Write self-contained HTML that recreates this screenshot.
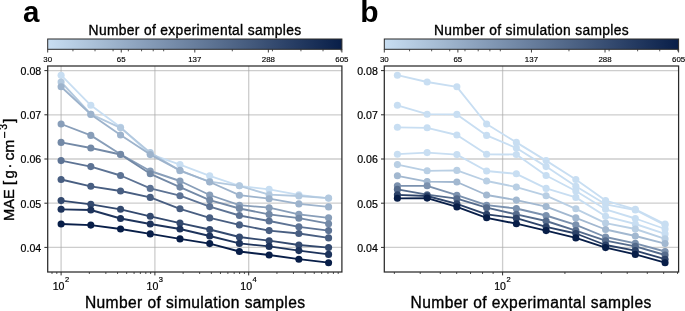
<!DOCTYPE html>
<html><head><meta charset="utf-8"><title>MAE vs samples</title>
<style>html,body{margin:0;padding:0;background:#fff;width:685px;height:311px;overflow:hidden}svg{will-change:transform}text{stroke:#000;stroke-width:0.35px}</style>
</head><body>
<svg width="685" height="311" viewBox="0 0 685 311" style="display:block">
<g font-family='"Liberation Sans", sans-serif' fill="#000">
<rect width="685" height="311" fill="#fff"/>
<text x="23" y="21.6" font-size="29.5" font-weight="bold" style="stroke:none">a</text>
<text x="360.2" y="21.5" font-size="30" font-weight="bold" style="stroke:none">b</text>
<defs><linearGradient id="ga" x1="0" x2="1" y1="0" y2="0"><stop offset="0.00" stop-color="#c8def2"/><stop offset="0.10" stop-color="#b5cbe1"/><stop offset="0.20" stop-color="#a2b8d0"/><stop offset="0.30" stop-color="#8ea4bf"/><stop offset="0.40" stop-color="#7b91ae"/><stop offset="0.50" stop-color="#687e9d"/><stop offset="0.60" stop-color="#556b8c"/><stop offset="0.70" stop-color="#42587b"/><stop offset="0.80" stop-color="#2e446a"/><stop offset="0.90" stop-color="#1b3159"/><stop offset="1.00" stop-color="#081e48"/></linearGradient></defs>
<rect x="47.7" y="39.0" width="294.20" height="10.30" fill="url(#ga)" stroke="#2a2a2a" stroke-width="1"/>
<line x1="72.94" x2="72.94" y1="49.3" y2="51.3" stroke="#2a2a2a" stroke-width="0.8"/>
<line x1="95.03" x2="95.03" y1="49.3" y2="51.3" stroke="#2a2a2a" stroke-width="0.8"/>
<line x1="113.09" x2="113.09" y1="49.3" y2="51.3" stroke="#2a2a2a" stroke-width="0.8"/>
<line x1="128.35" x2="128.35" y1="49.3" y2="51.3" stroke="#2a2a2a" stroke-width="0.8"/>
<line x1="141.57" x2="141.57" y1="49.3" y2="51.3" stroke="#2a2a2a" stroke-width="0.8"/>
<line x1="153.23" x2="153.23" y1="49.3" y2="51.3" stroke="#2a2a2a" stroke-width="0.8"/>
<line x1="163.67" x2="163.67" y1="49.3" y2="51.3" stroke="#2a2a2a" stroke-width="0.8"/>
<line x1="232.30" x2="232.30" y1="49.3" y2="51.3" stroke="#2a2a2a" stroke-width="0.8"/>
<line x1="272.45" x2="272.45" y1="49.3" y2="51.3" stroke="#2a2a2a" stroke-width="0.8"/>
<line x1="300.93" x2="300.93" y1="49.3" y2="51.3" stroke="#2a2a2a" stroke-width="0.8"/>
<line x1="323.03" x2="323.03" y1="49.3" y2="51.3" stroke="#2a2a2a" stroke-width="0.8"/>
<line x1="341.08" x2="341.08" y1="49.3" y2="51.3" stroke="#2a2a2a" stroke-width="0.8"/>
<line x1="47.70" x2="47.70" y1="49.3" y2="52.5" stroke="#2a2a2a" stroke-width="0.9"/>
<text x="47.70" y="61.5" font-size="7.9" text-anchor="middle" style="stroke-width:0.15px">30</text>
<line x1="121.25" x2="121.25" y1="49.3" y2="52.5" stroke="#2a2a2a" stroke-width="0.9"/>
<text x="121.25" y="61.5" font-size="7.9" text-anchor="middle" style="stroke-width:0.15px">65</text>
<line x1="194.80" x2="194.80" y1="49.3" y2="52.5" stroke="#2a2a2a" stroke-width="0.9"/>
<text x="194.80" y="61.5" font-size="7.9" text-anchor="middle" style="stroke-width:0.15px">137</text>
<line x1="268.35" x2="268.35" y1="49.3" y2="52.5" stroke="#2a2a2a" stroke-width="0.9"/>
<text x="268.35" y="61.5" font-size="7.9" text-anchor="middle" style="stroke-width:0.15px">288</text>
<line x1="341.90" x2="341.90" y1="49.3" y2="52.5" stroke="#2a2a2a" stroke-width="0.9"/>
<text x="341.90" y="61.5" font-size="7.9" text-anchor="middle" style="stroke-width:0.15px">605</text>
<text x="88.6" y="34.7" font-size="13.8" textLength="212.6" lengthAdjust="spacing">Number of experimental samples</text>
<line x1="47.7" x2="341.9" y1="247.40" y2="247.40" stroke="#a8a8a8" stroke-opacity="0.58" stroke-width="1.3"/>
<line x1="47.7" x2="341.9" y1="203.20" y2="203.20" stroke="#a8a8a8" stroke-opacity="0.58" stroke-width="1.3"/>
<line x1="47.7" x2="341.9" y1="159.00" y2="159.00" stroke="#a8a8a8" stroke-opacity="0.58" stroke-width="1.3"/>
<line x1="47.7" x2="341.9" y1="114.80" y2="114.80" stroke="#a8a8a8" stroke-opacity="0.58" stroke-width="1.3"/>
<line x1="47.7" x2="341.9" y1="70.60" y2="70.60" stroke="#a8a8a8" stroke-opacity="0.58" stroke-width="1.3"/>
<line x1="61.10" x2="61.10" y1="66.0" y2="272.0" stroke="#a8a8a8" stroke-opacity="0.58" stroke-width="1.3"/>
<line x1="154.90" x2="154.90" y1="66.0" y2="272.0" stroke="#a8a8a8" stroke-opacity="0.58" stroke-width="1.3"/>
<line x1="248.70" x2="248.70" y1="66.0" y2="272.0" stroke="#a8a8a8" stroke-opacity="0.58" stroke-width="1.3"/>
<path d="M61.10,75.20 L90.82,105.30 L120.54,127.30 L150.26,154.20 L179.98,164.60 L209.70,175.80 L239.42,185.80 L269.14,189.40 L298.86,194.80 L328.58,198.30" fill="none" stroke="#c8def2" stroke-width="1.85" stroke-linejoin="round"/>
<circle cx="61.10" cy="75.20" r="3.55" fill="#c8def2"/>
<circle cx="90.82" cy="105.30" r="3.55" fill="#c8def2"/>
<circle cx="120.54" cy="127.30" r="3.55" fill="#c8def2"/>
<circle cx="150.26" cy="154.20" r="3.55" fill="#c8def2"/>
<circle cx="179.98" cy="164.60" r="3.55" fill="#c8def2"/>
<circle cx="209.70" cy="175.80" r="3.55" fill="#c8def2"/>
<circle cx="239.42" cy="185.80" r="3.55" fill="#c8def2"/>
<circle cx="269.14" cy="189.40" r="3.55" fill="#c8def2"/>
<circle cx="298.86" cy="194.80" r="3.55" fill="#c8def2"/>
<circle cx="328.58" cy="198.30" r="3.55" fill="#c8def2"/>
<path d="M61.10,82.00 L90.82,114.20 L120.54,127.80 L150.26,152.60 L179.98,170.80 L209.70,181.60 L239.42,185.80 L269.14,194.70 L298.86,196.00 L328.58,198.10" fill="none" stroke="#b3c9df" stroke-width="1.85" stroke-linejoin="round"/>
<circle cx="61.10" cy="82.00" r="3.55" fill="#b3c9df"/>
<circle cx="90.82" cy="114.20" r="3.55" fill="#b3c9df"/>
<circle cx="120.54" cy="127.80" r="3.55" fill="#b3c9df"/>
<circle cx="150.26" cy="152.60" r="3.55" fill="#b3c9df"/>
<circle cx="179.98" cy="170.80" r="3.55" fill="#b3c9df"/>
<circle cx="209.70" cy="181.60" r="3.55" fill="#b3c9df"/>
<circle cx="239.42" cy="185.80" r="3.55" fill="#b3c9df"/>
<circle cx="269.14" cy="194.70" r="3.55" fill="#b3c9df"/>
<circle cx="298.86" cy="196.00" r="3.55" fill="#b3c9df"/>
<circle cx="328.58" cy="198.10" r="3.55" fill="#b3c9df"/>
<path d="M61.10,86.80 L90.82,114.40 L120.54,135.00 L150.26,154.60 L179.98,170.40 L209.70,182.00 L239.42,195.20 L269.14,198.70 L298.86,203.90 L328.58,206.90" fill="none" stroke="#9db3cc" stroke-width="1.85" stroke-linejoin="round"/>
<circle cx="61.10" cy="86.80" r="3.55" fill="#9db3cc"/>
<circle cx="90.82" cy="114.40" r="3.55" fill="#9db3cc"/>
<circle cx="120.54" cy="135.00" r="3.55" fill="#9db3cc"/>
<circle cx="150.26" cy="154.60" r="3.55" fill="#9db3cc"/>
<circle cx="179.98" cy="170.40" r="3.55" fill="#9db3cc"/>
<circle cx="209.70" cy="182.00" r="3.55" fill="#9db3cc"/>
<circle cx="239.42" cy="195.20" r="3.55" fill="#9db3cc"/>
<circle cx="269.14" cy="198.70" r="3.55" fill="#9db3cc"/>
<circle cx="298.86" cy="203.90" r="3.55" fill="#9db3cc"/>
<circle cx="328.58" cy="206.90" r="3.55" fill="#9db3cc"/>
<path d="M61.10,124.00 L90.82,135.40 L120.54,154.30 L150.26,171.00 L179.98,181.00 L209.70,195.00 L239.42,205.20 L269.14,207.70 L298.86,214.30 L328.58,217.80" fill="none" stroke="#889eb9" stroke-width="1.85" stroke-linejoin="round"/>
<circle cx="61.10" cy="124.00" r="3.55" fill="#889eb9"/>
<circle cx="90.82" cy="135.40" r="3.55" fill="#889eb9"/>
<circle cx="120.54" cy="154.30" r="3.55" fill="#889eb9"/>
<circle cx="150.26" cy="171.00" r="3.55" fill="#889eb9"/>
<circle cx="179.98" cy="181.00" r="3.55" fill="#889eb9"/>
<circle cx="209.70" cy="195.00" r="3.55" fill="#889eb9"/>
<circle cx="239.42" cy="205.20" r="3.55" fill="#889eb9"/>
<circle cx="269.14" cy="207.70" r="3.55" fill="#889eb9"/>
<circle cx="298.86" cy="214.30" r="3.55" fill="#889eb9"/>
<circle cx="328.58" cy="217.80" r="3.55" fill="#889eb9"/>
<path d="M61.10,142.40 L90.82,148.00 L120.54,154.50 L150.26,173.80 L179.98,187.10 L209.70,200.10 L239.42,208.50 L269.14,214.40 L298.86,218.20 L328.58,223.70" fill="none" stroke="#7389a6" stroke-width="1.85" stroke-linejoin="round"/>
<circle cx="61.10" cy="142.40" r="3.55" fill="#7389a6"/>
<circle cx="90.82" cy="148.00" r="3.55" fill="#7389a6"/>
<circle cx="120.54" cy="154.50" r="3.55" fill="#7389a6"/>
<circle cx="150.26" cy="173.80" r="3.55" fill="#7389a6"/>
<circle cx="179.98" cy="187.10" r="3.55" fill="#7389a6"/>
<circle cx="209.70" cy="200.10" r="3.55" fill="#7389a6"/>
<circle cx="239.42" cy="208.50" r="3.55" fill="#7389a6"/>
<circle cx="269.14" cy="214.40" r="3.55" fill="#7389a6"/>
<circle cx="298.86" cy="218.20" r="3.55" fill="#7389a6"/>
<circle cx="328.58" cy="223.70" r="3.55" fill="#7389a6"/>
<path d="M61.10,160.60 L90.82,166.60 L120.54,175.50 L150.26,188.40 L179.98,195.70 L209.70,206.60 L239.42,215.50 L269.14,221.00 L298.86,226.80 L328.58,230.60" fill="none" stroke="#5d7394" stroke-width="1.85" stroke-linejoin="round"/>
<circle cx="61.10" cy="160.60" r="3.55" fill="#5d7394"/>
<circle cx="90.82" cy="166.60" r="3.55" fill="#5d7394"/>
<circle cx="120.54" cy="175.50" r="3.55" fill="#5d7394"/>
<circle cx="150.26" cy="188.40" r="3.55" fill="#5d7394"/>
<circle cx="179.98" cy="195.70" r="3.55" fill="#5d7394"/>
<circle cx="209.70" cy="206.60" r="3.55" fill="#5d7394"/>
<circle cx="239.42" cy="215.50" r="3.55" fill="#5d7394"/>
<circle cx="269.14" cy="221.00" r="3.55" fill="#5d7394"/>
<circle cx="298.86" cy="226.80" r="3.55" fill="#5d7394"/>
<circle cx="328.58" cy="230.60" r="3.55" fill="#5d7394"/>
<path d="M61.10,179.50 L90.82,186.30 L120.54,191.00 L150.26,197.40 L179.98,208.80 L209.70,217.90 L239.42,224.90 L269.14,230.60 L298.86,233.50 L328.58,237.90" fill="none" stroke="#485e81" stroke-width="1.85" stroke-linejoin="round"/>
<circle cx="61.10" cy="179.50" r="3.55" fill="#485e81"/>
<circle cx="90.82" cy="186.30" r="3.55" fill="#485e81"/>
<circle cx="120.54" cy="191.00" r="3.55" fill="#485e81"/>
<circle cx="150.26" cy="197.40" r="3.55" fill="#485e81"/>
<circle cx="179.98" cy="208.80" r="3.55" fill="#485e81"/>
<circle cx="209.70" cy="217.90" r="3.55" fill="#485e81"/>
<circle cx="239.42" cy="224.90" r="3.55" fill="#485e81"/>
<circle cx="269.14" cy="230.60" r="3.55" fill="#485e81"/>
<circle cx="298.86" cy="233.50" r="3.55" fill="#485e81"/>
<circle cx="328.58" cy="237.90" r="3.55" fill="#485e81"/>
<path d="M61.10,200.60 L90.82,204.30 L120.54,209.30 L150.26,216.30 L179.98,223.10 L209.70,229.50 L239.42,237.00 L269.14,240.70 L298.86,245.00 L328.58,247.60" fill="none" stroke="#33496e" stroke-width="1.85" stroke-linejoin="round"/>
<circle cx="61.10" cy="200.60" r="3.55" fill="#33496e"/>
<circle cx="90.82" cy="204.30" r="3.55" fill="#33496e"/>
<circle cx="120.54" cy="209.30" r="3.55" fill="#33496e"/>
<circle cx="150.26" cy="216.30" r="3.55" fill="#33496e"/>
<circle cx="179.98" cy="223.10" r="3.55" fill="#33496e"/>
<circle cx="209.70" cy="229.50" r="3.55" fill="#33496e"/>
<circle cx="239.42" cy="237.00" r="3.55" fill="#33496e"/>
<circle cx="269.14" cy="240.70" r="3.55" fill="#33496e"/>
<circle cx="298.86" cy="245.00" r="3.55" fill="#33496e"/>
<circle cx="328.58" cy="247.60" r="3.55" fill="#33496e"/>
<path d="M61.10,209.30 L90.82,210.00 L120.54,218.50 L150.26,224.00 L179.98,229.00 L209.70,236.00 L239.42,243.40 L269.14,246.40 L298.86,250.60 L328.58,254.40" fill="none" stroke="#1d335b" stroke-width="1.85" stroke-linejoin="round"/>
<circle cx="61.10" cy="209.30" r="3.55" fill="#1d335b"/>
<circle cx="90.82" cy="210.00" r="3.55" fill="#1d335b"/>
<circle cx="120.54" cy="218.50" r="3.55" fill="#1d335b"/>
<circle cx="150.26" cy="224.00" r="3.55" fill="#1d335b"/>
<circle cx="179.98" cy="229.00" r="3.55" fill="#1d335b"/>
<circle cx="209.70" cy="236.00" r="3.55" fill="#1d335b"/>
<circle cx="239.42" cy="243.40" r="3.55" fill="#1d335b"/>
<circle cx="269.14" cy="246.40" r="3.55" fill="#1d335b"/>
<circle cx="298.86" cy="250.60" r="3.55" fill="#1d335b"/>
<circle cx="328.58" cy="254.40" r="3.55" fill="#1d335b"/>
<path d="M61.10,224.00 L90.82,225.10 L120.54,229.00 L150.26,233.90 L179.98,238.90 L209.70,243.60 L239.42,251.50 L269.14,255.00 L298.86,259.20 L328.58,262.70" fill="none" stroke="#081e48" stroke-width="1.85" stroke-linejoin="round"/>
<circle cx="61.10" cy="224.00" r="3.55" fill="#081e48"/>
<circle cx="90.82" cy="225.10" r="3.55" fill="#081e48"/>
<circle cx="120.54" cy="229.00" r="3.55" fill="#081e48"/>
<circle cx="150.26" cy="233.90" r="3.55" fill="#081e48"/>
<circle cx="179.98" cy="238.90" r="3.55" fill="#081e48"/>
<circle cx="209.70" cy="243.60" r="3.55" fill="#081e48"/>
<circle cx="239.42" cy="251.50" r="3.55" fill="#081e48"/>
<circle cx="269.14" cy="255.00" r="3.55" fill="#081e48"/>
<circle cx="298.86" cy="259.20" r="3.55" fill="#081e48"/>
<circle cx="328.58" cy="262.70" r="3.55" fill="#081e48"/>
<rect x="47.7" y="66.0" width="294.20" height="206.00" fill="none" stroke="#2a2a2a" stroke-width="1.25"/>
<line x1="44.40" x2="47.7" y1="247.40" y2="247.40" stroke="#2a2a2a" stroke-width="1"/>
<text x="41.2" y="251.80" font-size="10.6" text-anchor="end" style="stroke-width:0.2px">0.04</text>
<line x1="44.40" x2="47.7" y1="203.20" y2="203.20" stroke="#2a2a2a" stroke-width="1"/>
<text x="41.2" y="207.60" font-size="10.6" text-anchor="end" style="stroke-width:0.2px">0.05</text>
<line x1="44.40" x2="47.7" y1="159.00" y2="159.00" stroke="#2a2a2a" stroke-width="1"/>
<text x="41.2" y="163.40" font-size="10.6" text-anchor="end" style="stroke-width:0.2px">0.06</text>
<line x1="44.40" x2="47.7" y1="114.80" y2="114.80" stroke="#2a2a2a" stroke-width="1"/>
<text x="41.2" y="119.20" font-size="10.6" text-anchor="end" style="stroke-width:0.2px">0.07</text>
<line x1="44.40" x2="47.7" y1="70.60" y2="70.60" stroke="#2a2a2a" stroke-width="1"/>
<text x="41.2" y="75.00" font-size="10.6" text-anchor="end" style="stroke-width:0.2px">0.08</text>
<line x1="52.01" x2="52.01" y1="272.0" y2="274.0" stroke="#2a2a2a" stroke-width="0.8"/>
<line x1="56.81" x2="56.81" y1="272.0" y2="274.0" stroke="#2a2a2a" stroke-width="0.8"/>
<line x1="89.34" x2="89.34" y1="272.0" y2="274.0" stroke="#2a2a2a" stroke-width="0.8"/>
<line x1="105.85" x2="105.85" y1="272.0" y2="274.0" stroke="#2a2a2a" stroke-width="0.8"/>
<line x1="117.57" x2="117.57" y1="272.0" y2="274.0" stroke="#2a2a2a" stroke-width="0.8"/>
<line x1="126.66" x2="126.66" y1="272.0" y2="274.0" stroke="#2a2a2a" stroke-width="0.8"/>
<line x1="134.09" x2="134.09" y1="272.0" y2="274.0" stroke="#2a2a2a" stroke-width="0.8"/>
<line x1="140.37" x2="140.37" y1="272.0" y2="274.0" stroke="#2a2a2a" stroke-width="0.8"/>
<line x1="145.81" x2="145.81" y1="272.0" y2="274.0" stroke="#2a2a2a" stroke-width="0.8"/>
<line x1="150.61" x2="150.61" y1="272.0" y2="274.0" stroke="#2a2a2a" stroke-width="0.8"/>
<line x1="183.14" x2="183.14" y1="272.0" y2="274.0" stroke="#2a2a2a" stroke-width="0.8"/>
<line x1="199.65" x2="199.65" y1="272.0" y2="274.0" stroke="#2a2a2a" stroke-width="0.8"/>
<line x1="211.37" x2="211.37" y1="272.0" y2="274.0" stroke="#2a2a2a" stroke-width="0.8"/>
<line x1="220.46" x2="220.46" y1="272.0" y2="274.0" stroke="#2a2a2a" stroke-width="0.8"/>
<line x1="227.89" x2="227.89" y1="272.0" y2="274.0" stroke="#2a2a2a" stroke-width="0.8"/>
<line x1="234.17" x2="234.17" y1="272.0" y2="274.0" stroke="#2a2a2a" stroke-width="0.8"/>
<line x1="239.61" x2="239.61" y1="272.0" y2="274.0" stroke="#2a2a2a" stroke-width="0.8"/>
<line x1="244.41" x2="244.41" y1="272.0" y2="274.0" stroke="#2a2a2a" stroke-width="0.8"/>
<line x1="276.94" x2="276.94" y1="272.0" y2="274.0" stroke="#2a2a2a" stroke-width="0.8"/>
<line x1="293.45" x2="293.45" y1="272.0" y2="274.0" stroke="#2a2a2a" stroke-width="0.8"/>
<line x1="305.17" x2="305.17" y1="272.0" y2="274.0" stroke="#2a2a2a" stroke-width="0.8"/>
<line x1="314.26" x2="314.26" y1="272.0" y2="274.0" stroke="#2a2a2a" stroke-width="0.8"/>
<line x1="321.69" x2="321.69" y1="272.0" y2="274.0" stroke="#2a2a2a" stroke-width="0.8"/>
<line x1="327.97" x2="327.97" y1="272.0" y2="274.0" stroke="#2a2a2a" stroke-width="0.8"/>
<line x1="333.41" x2="333.41" y1="272.0" y2="274.0" stroke="#2a2a2a" stroke-width="0.8"/>
<line x1="338.21" x2="338.21" y1="272.0" y2="274.0" stroke="#2a2a2a" stroke-width="0.8"/>
<line x1="61.10" x2="61.10" y1="272.0" y2="275.4" stroke="#2a2a2a" stroke-width="1"/>
<text x="60.90" y="289.5" font-size="10.6" text-anchor="middle" style="stroke-width:0.2px">10<tspan dx="0.4" dy="-7.2" font-size="7.5">2</tspan></text>
<line x1="154.90" x2="154.90" y1="272.0" y2="275.4" stroke="#2a2a2a" stroke-width="1"/>
<text x="154.70" y="289.5" font-size="10.6" text-anchor="middle" style="stroke-width:0.2px">10<tspan dx="0.4" dy="-7.2" font-size="7.5">3</tspan></text>
<line x1="248.70" x2="248.70" y1="272.0" y2="275.4" stroke="#2a2a2a" stroke-width="1"/>
<text x="248.50" y="289.5" font-size="10.6" text-anchor="middle" style="stroke-width:0.2px">10<tspan dx="0.4" dy="-7.2" font-size="7.5">4</tspan></text>
<text x="84.9" y="307.5" font-size="15.6" textLength="220.1" lengthAdjust="spacing">Number of simulation samples</text>
<defs><linearGradient id="gb" x1="0" x2="1" y1="0" y2="0"><stop offset="0.00" stop-color="#c8def2"/><stop offset="0.10" stop-color="#b5cbe1"/><stop offset="0.20" stop-color="#a2b8d0"/><stop offset="0.30" stop-color="#8ea4bf"/><stop offset="0.40" stop-color="#7b91ae"/><stop offset="0.50" stop-color="#687e9d"/><stop offset="0.60" stop-color="#556b8c"/><stop offset="0.70" stop-color="#42587b"/><stop offset="0.80" stop-color="#2e446a"/><stop offset="0.90" stop-color="#1b3159"/><stop offset="1.00" stop-color="#081e48"/></linearGradient></defs>
<rect x="384.3" y="39.0" width="294.30" height="10.30" fill="url(#gb)" stroke="#2a2a2a" stroke-width="1"/>
<line x1="409.55" x2="409.55" y1="49.3" y2="51.3" stroke="#2a2a2a" stroke-width="0.8"/>
<line x1="431.65" x2="431.65" y1="49.3" y2="51.3" stroke="#2a2a2a" stroke-width="0.8"/>
<line x1="449.71" x2="449.71" y1="49.3" y2="51.3" stroke="#2a2a2a" stroke-width="0.8"/>
<line x1="464.98" x2="464.98" y1="49.3" y2="51.3" stroke="#2a2a2a" stroke-width="0.8"/>
<line x1="478.20" x2="478.20" y1="49.3" y2="51.3" stroke="#2a2a2a" stroke-width="0.8"/>
<line x1="489.87" x2="489.87" y1="49.3" y2="51.3" stroke="#2a2a2a" stroke-width="0.8"/>
<line x1="500.31" x2="500.31" y1="49.3" y2="51.3" stroke="#2a2a2a" stroke-width="0.8"/>
<line x1="568.96" x2="568.96" y1="49.3" y2="51.3" stroke="#2a2a2a" stroke-width="0.8"/>
<line x1="609.12" x2="609.12" y1="49.3" y2="51.3" stroke="#2a2a2a" stroke-width="0.8"/>
<line x1="637.62" x2="637.62" y1="49.3" y2="51.3" stroke="#2a2a2a" stroke-width="0.8"/>
<line x1="659.72" x2="659.72" y1="49.3" y2="51.3" stroke="#2a2a2a" stroke-width="0.8"/>
<line x1="677.78" x2="677.78" y1="49.3" y2="51.3" stroke="#2a2a2a" stroke-width="0.8"/>
<line x1="384.30" x2="384.30" y1="49.3" y2="52.5" stroke="#2a2a2a" stroke-width="0.9"/>
<text x="384.30" y="61.5" font-size="7.9" text-anchor="middle" style="stroke-width:0.15px">30</text>
<line x1="457.88" x2="457.88" y1="49.3" y2="52.5" stroke="#2a2a2a" stroke-width="0.9"/>
<text x="457.88" y="61.5" font-size="7.9" text-anchor="middle" style="stroke-width:0.15px">65</text>
<line x1="531.45" x2="531.45" y1="49.3" y2="52.5" stroke="#2a2a2a" stroke-width="0.9"/>
<text x="531.45" y="61.5" font-size="7.9" text-anchor="middle" style="stroke-width:0.15px">137</text>
<line x1="605.03" x2="605.03" y1="49.3" y2="52.5" stroke="#2a2a2a" stroke-width="0.9"/>
<text x="605.03" y="61.5" font-size="7.9" text-anchor="middle" style="stroke-width:0.15px">288</text>
<line x1="678.60" x2="678.60" y1="49.3" y2="52.5" stroke="#2a2a2a" stroke-width="0.9"/>
<text x="678.60" y="61.5" font-size="7.9" text-anchor="middle" style="stroke-width:0.15px">605</text>
<text x="433.9" y="34.7" font-size="13.8" textLength="194.7" lengthAdjust="spacing">Number of simulation samples</text>
<line x1="384.3" x2="678.6" y1="247.40" y2="247.40" stroke="#a8a8a8" stroke-opacity="0.58" stroke-width="1.3"/>
<line x1="384.3" x2="678.6" y1="203.20" y2="203.20" stroke="#a8a8a8" stroke-opacity="0.58" stroke-width="1.3"/>
<line x1="384.3" x2="678.6" y1="159.00" y2="159.00" stroke="#a8a8a8" stroke-opacity="0.58" stroke-width="1.3"/>
<line x1="384.3" x2="678.6" y1="114.80" y2="114.80" stroke="#a8a8a8" stroke-opacity="0.58" stroke-width="1.3"/>
<line x1="384.3" x2="678.6" y1="70.60" y2="70.60" stroke="#a8a8a8" stroke-opacity="0.58" stroke-width="1.3"/>
<line x1="502.60" x2="502.60" y1="66.0" y2="272.0" stroke="#a8a8a8" stroke-opacity="0.58" stroke-width="1.3"/>
<path d="M397.40,75.20 L427.14,82.00 L456.88,86.80 L486.62,124.00 L516.36,142.40 L546.10,160.60 L575.84,179.50 L605.58,200.60 L635.32,209.30 L665.06,224.00" fill="none" stroke="#c8def2" stroke-width="1.85" stroke-linejoin="round"/>
<circle cx="397.40" cy="75.20" r="3.55" fill="#c8def2"/>
<circle cx="427.14" cy="82.00" r="3.55" fill="#c8def2"/>
<circle cx="456.88" cy="86.80" r="3.55" fill="#c8def2"/>
<circle cx="486.62" cy="124.00" r="3.55" fill="#c8def2"/>
<circle cx="516.36" cy="142.40" r="3.55" fill="#c8def2"/>
<circle cx="546.10" cy="160.60" r="3.55" fill="#c8def2"/>
<circle cx="575.84" cy="179.50" r="3.55" fill="#c8def2"/>
<circle cx="605.58" cy="200.60" r="3.55" fill="#c8def2"/>
<circle cx="635.32" cy="209.30" r="3.55" fill="#c8def2"/>
<circle cx="665.06" cy="224.00" r="3.55" fill="#c8def2"/>
<path d="M397.40,105.30 L427.14,114.20 L456.88,114.40 L486.62,135.40 L516.36,148.00 L546.10,166.60 L575.84,186.30 L605.58,204.30 L635.32,210.00 L665.06,225.10" fill="none" stroke="#c8def2" stroke-width="1.85" stroke-linejoin="round"/>
<circle cx="397.40" cy="105.30" r="3.55" fill="#c8def2"/>
<circle cx="427.14" cy="114.20" r="3.55" fill="#c8def2"/>
<circle cx="456.88" cy="114.40" r="3.55" fill="#c8def2"/>
<circle cx="486.62" cy="135.40" r="3.55" fill="#c8def2"/>
<circle cx="516.36" cy="148.00" r="3.55" fill="#c8def2"/>
<circle cx="546.10" cy="166.60" r="3.55" fill="#c8def2"/>
<circle cx="575.84" cy="186.30" r="3.55" fill="#c8def2"/>
<circle cx="605.58" cy="204.30" r="3.55" fill="#c8def2"/>
<circle cx="635.32" cy="210.00" r="3.55" fill="#c8def2"/>
<circle cx="665.06" cy="225.10" r="3.55" fill="#c8def2"/>
<path d="M397.40,127.30 L427.14,127.80 L456.88,135.00 L486.62,154.30 L516.36,154.50 L546.10,175.50 L575.84,191.00 L605.58,209.30 L635.32,218.50 L665.06,229.00" fill="none" stroke="#c8def2" stroke-width="1.85" stroke-linejoin="round"/>
<circle cx="397.40" cy="127.30" r="3.55" fill="#c8def2"/>
<circle cx="427.14" cy="127.80" r="3.55" fill="#c8def2"/>
<circle cx="456.88" cy="135.00" r="3.55" fill="#c8def2"/>
<circle cx="486.62" cy="154.30" r="3.55" fill="#c8def2"/>
<circle cx="516.36" cy="154.50" r="3.55" fill="#c8def2"/>
<circle cx="546.10" cy="175.50" r="3.55" fill="#c8def2"/>
<circle cx="575.84" cy="191.00" r="3.55" fill="#c8def2"/>
<circle cx="605.58" cy="209.30" r="3.55" fill="#c8def2"/>
<circle cx="635.32" cy="218.50" r="3.55" fill="#c8def2"/>
<circle cx="665.06" cy="229.00" r="3.55" fill="#c8def2"/>
<path d="M397.40,154.20 L427.14,152.60 L456.88,154.60 L486.62,171.00 L516.36,173.80 L546.10,188.40 L575.84,197.40 L605.58,216.30 L635.32,224.00 L665.06,233.90" fill="none" stroke="#c8def2" stroke-width="1.85" stroke-linejoin="round"/>
<circle cx="397.40" cy="154.20" r="3.55" fill="#c8def2"/>
<circle cx="427.14" cy="152.60" r="3.55" fill="#c8def2"/>
<circle cx="456.88" cy="154.60" r="3.55" fill="#c8def2"/>
<circle cx="486.62" cy="171.00" r="3.55" fill="#c8def2"/>
<circle cx="516.36" cy="173.80" r="3.55" fill="#c8def2"/>
<circle cx="546.10" cy="188.40" r="3.55" fill="#c8def2"/>
<circle cx="575.84" cy="197.40" r="3.55" fill="#c8def2"/>
<circle cx="605.58" cy="216.30" r="3.55" fill="#c8def2"/>
<circle cx="635.32" cy="224.00" r="3.55" fill="#c8def2"/>
<circle cx="665.06" cy="233.90" r="3.55" fill="#c8def2"/>
<path d="M397.40,164.60 L427.14,170.80 L456.88,170.40 L486.62,181.00 L516.36,187.10 L546.10,195.70 L575.84,208.80 L605.58,223.10 L635.32,229.00 L665.06,238.90" fill="none" stroke="#b9cfe4" stroke-width="1.85" stroke-linejoin="round"/>
<circle cx="397.40" cy="164.60" r="3.55" fill="#b9cfe4"/>
<circle cx="427.14" cy="170.80" r="3.55" fill="#b9cfe4"/>
<circle cx="456.88" cy="170.40" r="3.55" fill="#b9cfe4"/>
<circle cx="486.62" cy="181.00" r="3.55" fill="#b9cfe4"/>
<circle cx="516.36" cy="187.10" r="3.55" fill="#b9cfe4"/>
<circle cx="546.10" cy="195.70" r="3.55" fill="#b9cfe4"/>
<circle cx="575.84" cy="208.80" r="3.55" fill="#b9cfe4"/>
<circle cx="605.58" cy="223.10" r="3.55" fill="#b9cfe4"/>
<circle cx="635.32" cy="229.00" r="3.55" fill="#b9cfe4"/>
<circle cx="665.06" cy="238.90" r="3.55" fill="#b9cfe4"/>
<path d="M397.40,175.80 L427.14,181.60 L456.88,182.00 L486.62,195.00 L516.36,200.10 L546.10,206.60 L575.84,217.90 L605.58,229.50 L635.32,236.00 L665.06,243.60" fill="none" stroke="#a2b8d0" stroke-width="1.85" stroke-linejoin="round"/>
<circle cx="397.40" cy="175.80" r="3.55" fill="#a2b8d0"/>
<circle cx="427.14" cy="181.60" r="3.55" fill="#a2b8d0"/>
<circle cx="456.88" cy="182.00" r="3.55" fill="#a2b8d0"/>
<circle cx="486.62" cy="195.00" r="3.55" fill="#a2b8d0"/>
<circle cx="516.36" cy="200.10" r="3.55" fill="#a2b8d0"/>
<circle cx="546.10" cy="206.60" r="3.55" fill="#a2b8d0"/>
<circle cx="575.84" cy="217.90" r="3.55" fill="#a2b8d0"/>
<circle cx="605.58" cy="229.50" r="3.55" fill="#a2b8d0"/>
<circle cx="635.32" cy="236.00" r="3.55" fill="#a2b8d0"/>
<circle cx="665.06" cy="243.60" r="3.55" fill="#a2b8d0"/>
<path d="M397.40,185.80 L427.14,185.80 L456.88,195.20 L486.62,205.20 L516.36,208.50 L546.10,215.50 L575.84,224.90 L605.58,237.00 L635.32,243.40 L665.06,251.50" fill="none" stroke="#7b91ae" stroke-width="1.85" stroke-linejoin="round"/>
<circle cx="397.40" cy="185.80" r="3.55" fill="#7b91ae"/>
<circle cx="427.14" cy="185.80" r="3.55" fill="#7b91ae"/>
<circle cx="456.88" cy="195.20" r="3.55" fill="#7b91ae"/>
<circle cx="486.62" cy="205.20" r="3.55" fill="#7b91ae"/>
<circle cx="516.36" cy="208.50" r="3.55" fill="#7b91ae"/>
<circle cx="546.10" cy="215.50" r="3.55" fill="#7b91ae"/>
<circle cx="575.84" cy="224.90" r="3.55" fill="#7b91ae"/>
<circle cx="605.58" cy="237.00" r="3.55" fill="#7b91ae"/>
<circle cx="635.32" cy="243.40" r="3.55" fill="#7b91ae"/>
<circle cx="665.06" cy="251.50" r="3.55" fill="#7b91ae"/>
<path d="M397.40,189.40 L427.14,194.70 L456.88,198.70 L486.62,207.70 L516.36,214.40 L546.10,221.00 L575.84,230.60 L605.58,240.70 L635.32,246.40 L665.06,255.00" fill="none" stroke="#556b8c" stroke-width="1.85" stroke-linejoin="round"/>
<circle cx="397.40" cy="189.40" r="3.55" fill="#556b8c"/>
<circle cx="427.14" cy="194.70" r="3.55" fill="#556b8c"/>
<circle cx="456.88" cy="198.70" r="3.55" fill="#556b8c"/>
<circle cx="486.62" cy="207.70" r="3.55" fill="#556b8c"/>
<circle cx="516.36" cy="214.40" r="3.55" fill="#556b8c"/>
<circle cx="546.10" cy="221.00" r="3.55" fill="#556b8c"/>
<circle cx="575.84" cy="230.60" r="3.55" fill="#556b8c"/>
<circle cx="605.58" cy="240.70" r="3.55" fill="#556b8c"/>
<circle cx="635.32" cy="246.40" r="3.55" fill="#556b8c"/>
<circle cx="665.06" cy="255.00" r="3.55" fill="#556b8c"/>
<path d="M397.40,194.80 L427.14,196.00 L456.88,203.90 L486.62,214.30 L516.36,218.20 L546.10,226.80 L575.84,233.50 L605.58,245.00 L635.32,250.60 L665.06,259.20" fill="none" stroke="#2c4268" stroke-width="1.85" stroke-linejoin="round"/>
<circle cx="397.40" cy="194.80" r="3.55" fill="#2c4268"/>
<circle cx="427.14" cy="196.00" r="3.55" fill="#2c4268"/>
<circle cx="456.88" cy="203.90" r="3.55" fill="#2c4268"/>
<circle cx="486.62" cy="214.30" r="3.55" fill="#2c4268"/>
<circle cx="516.36" cy="218.20" r="3.55" fill="#2c4268"/>
<circle cx="546.10" cy="226.80" r="3.55" fill="#2c4268"/>
<circle cx="575.84" cy="233.50" r="3.55" fill="#2c4268"/>
<circle cx="605.58" cy="245.00" r="3.55" fill="#2c4268"/>
<circle cx="635.32" cy="250.60" r="3.55" fill="#2c4268"/>
<circle cx="665.06" cy="259.20" r="3.55" fill="#2c4268"/>
<path d="M397.40,198.30 L427.14,198.10 L456.88,206.90 L486.62,217.80 L516.36,223.70 L546.10,230.60 L575.84,237.90 L605.58,247.60 L635.32,254.40 L665.06,262.70" fill="none" stroke="#081e48" stroke-width="1.85" stroke-linejoin="round"/>
<circle cx="397.40" cy="198.30" r="3.55" fill="#081e48"/>
<circle cx="427.14" cy="198.10" r="3.55" fill="#081e48"/>
<circle cx="456.88" cy="206.90" r="3.55" fill="#081e48"/>
<circle cx="486.62" cy="217.80" r="3.55" fill="#081e48"/>
<circle cx="516.36" cy="223.70" r="3.55" fill="#081e48"/>
<circle cx="546.10" cy="230.60" r="3.55" fill="#081e48"/>
<circle cx="575.84" cy="237.90" r="3.55" fill="#081e48"/>
<circle cx="605.58" cy="247.60" r="3.55" fill="#081e48"/>
<circle cx="635.32" cy="254.40" r="3.55" fill="#081e48"/>
<circle cx="665.06" cy="262.70" r="3.55" fill="#081e48"/>
<rect x="384.3" y="66.0" width="294.30" height="206.00" fill="none" stroke="#2a2a2a" stroke-width="1.25"/>
<line x1="381.00" x2="384.3" y1="247.40" y2="247.40" stroke="#2a2a2a" stroke-width="1"/>
<text x="377.8" y="251.80" font-size="10.6" text-anchor="end" style="stroke-width:0.2px">0.04</text>
<line x1="381.00" x2="384.3" y1="203.20" y2="203.20" stroke="#2a2a2a" stroke-width="1"/>
<text x="377.8" y="207.60" font-size="10.6" text-anchor="end" style="stroke-width:0.2px">0.05</text>
<line x1="381.00" x2="384.3" y1="159.00" y2="159.00" stroke="#2a2a2a" stroke-width="1"/>
<text x="377.8" y="163.40" font-size="10.6" text-anchor="end" style="stroke-width:0.2px">0.06</text>
<line x1="381.00" x2="384.3" y1="114.80" y2="114.80" stroke="#2a2a2a" stroke-width="1"/>
<text x="377.8" y="119.20" font-size="10.6" text-anchor="end" style="stroke-width:0.2px">0.07</text>
<line x1="381.00" x2="384.3" y1="70.60" y2="70.60" stroke="#2a2a2a" stroke-width="1"/>
<text x="377.8" y="75.00" font-size="10.6" text-anchor="end" style="stroke-width:0.2px">0.08</text>
<line x1="394.36" x2="394.36" y1="272.0" y2="274.0" stroke="#2a2a2a" stroke-width="0.8"/>
<line x1="420.23" x2="420.23" y1="272.0" y2="274.0" stroke="#2a2a2a" stroke-width="0.8"/>
<line x1="440.29" x2="440.29" y1="272.0" y2="274.0" stroke="#2a2a2a" stroke-width="0.8"/>
<line x1="456.68" x2="456.68" y1="272.0" y2="274.0" stroke="#2a2a2a" stroke-width="0.8"/>
<line x1="470.54" x2="470.54" y1="272.0" y2="274.0" stroke="#2a2a2a" stroke-width="0.8"/>
<line x1="482.54" x2="482.54" y1="272.0" y2="274.0" stroke="#2a2a2a" stroke-width="0.8"/>
<line x1="493.13" x2="493.13" y1="272.0" y2="274.0" stroke="#2a2a2a" stroke-width="0.8"/>
<line x1="564.91" x2="564.91" y1="272.0" y2="274.0" stroke="#2a2a2a" stroke-width="0.8"/>
<line x1="601.36" x2="601.36" y1="272.0" y2="274.0" stroke="#2a2a2a" stroke-width="0.8"/>
<line x1="627.23" x2="627.23" y1="272.0" y2="274.0" stroke="#2a2a2a" stroke-width="0.8"/>
<line x1="647.29" x2="647.29" y1="272.0" y2="274.0" stroke="#2a2a2a" stroke-width="0.8"/>
<line x1="663.68" x2="663.68" y1="272.0" y2="274.0" stroke="#2a2a2a" stroke-width="0.8"/>
<line x1="677.54" x2="677.54" y1="272.0" y2="274.0" stroke="#2a2a2a" stroke-width="0.8"/>
<line x1="502.60" x2="502.60" y1="272.0" y2="275.4" stroke="#2a2a2a" stroke-width="1"/>
<text x="502.40" y="289.5" font-size="10.6" text-anchor="middle" style="stroke-width:0.2px">10<tspan dx="0.4" dy="-7.2" font-size="7.5">2</tspan></text>
<text x="410.5" y="307.5" font-size="15.6" textLength="240.8" lengthAdjust="spacing">Number of experimantal samples</text>
<g transform="translate(13.5,220) rotate(-90)" font-size="14.7"><text x="-1.1" y="0">MAE</text><text x="35.1" y="0">[</text><text x="41.4" y="0">g</text><text x="51.4" y="0">·</text><text x="59.5" y="0" textLength="21" lengthAdjust="spacingAndGlyphs">cm</text><rect x="82" y="-9.4" width="6.2" height="1.1" fill="#000"/><text x="90.2" y="-6.1" font-size="10.3">3</text><text x="97.2" y="0">]</text></g>
</g></svg>
</body></html>
